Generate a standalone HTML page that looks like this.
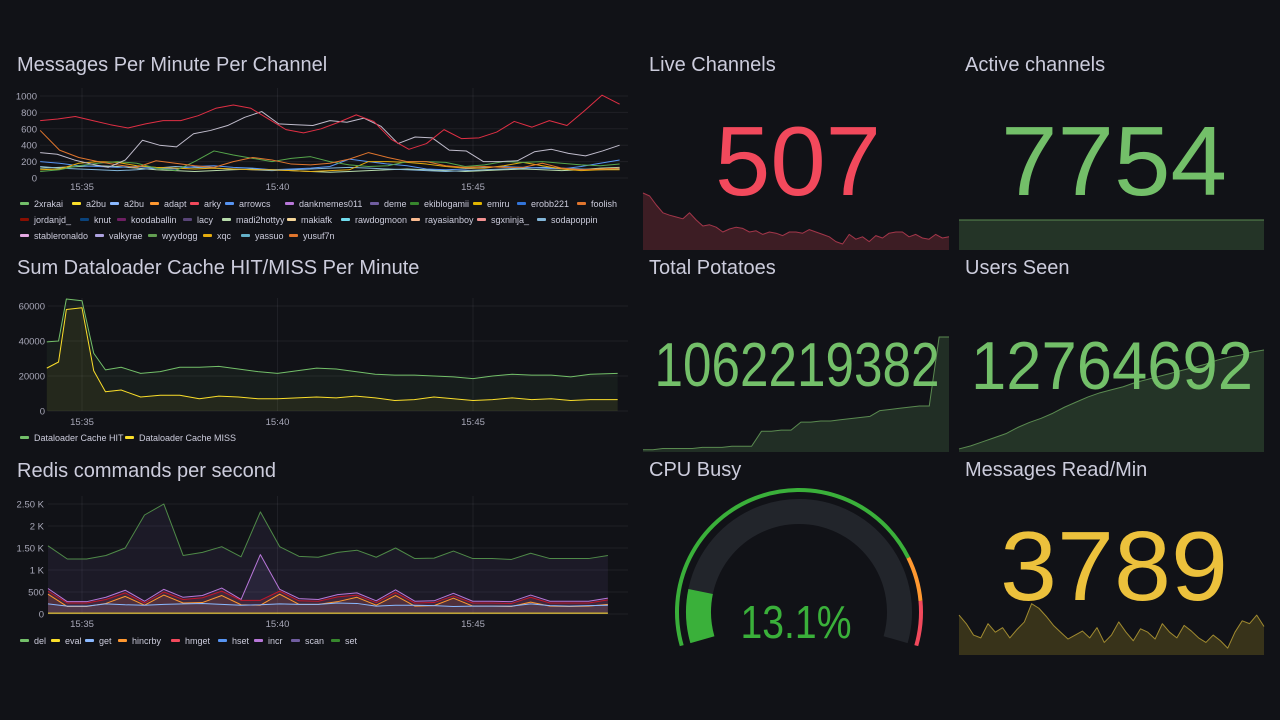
<!DOCTYPE html>
<html><head><meta charset="utf-8"><style>
html,body{margin:0;padding:0;background:#111217;}
svg{display:block;font-family:"Liberation Sans",sans-serif;}
.t{fill:#ccccdc;font-size:20px;}
.tk{fill:#a8a8b8;font-size:9.5px;}
.lg{fill:#ccccdc;font-size:9px;}
.g{stroke:rgba(204,204,220,0.08);stroke-width:1;}
</style></head><body>
<svg id="s" width="1280" height="720" viewBox="0 0 1280 720">
<text class="t" x="17" y="71">Messages Per Minute Per Channel</text>
<text class="t" x="17" y="274">Sum Dataloader Cache HIT/MISS Per Minute</text>
<text class="t" x="17" y="477">Redis commands per second</text>
<text class="t" x="649" y="71">Live Channels</text>
<text class="t" x="965" y="71">Active channels</text>
<text class="t" x="649" y="274">Total Potatoes</text>
<text class="t" x="965" y="274">Users Seen</text>
<text class="t" x="649" y="476">CPU Busy</text>
<text class="t" x="965" y="476">Messages Read/Min</text>
<g id="layer"></g>
</svg>
<script>
// ---------- Panel 1: messages per minute ----------
const p1Ticks = [0,200,400,600,800,1000];
const timeTicks = [35,40,45];
const timeLabels = ["15:35","15:40","15:45"];
const p1Names = ["2xrakai","a2bu","a2bu","adapt","arky","arrowcs","dankmemes011","deme","ekiblogamii","emiru","erobb221","foolish","jordanjd_","knut","koodaballin","lacy","madi2hottyy","makiafk","rawdogmoon","rayasianboy","sgxninja_","sodapoppin","stableronaldo","valkyrae","wyydogg","xqc","yassuo","yusuf7n"];
const p1Colors = ["#73bf69","#fade2a","#8ab8ff","#ff9830","#f2495c","#5794f2","#b877d9","#705da0","#37872d","#e0b400","#3274d9","#e0752d","#890f02","#0a437c","#6d1f62","#584477","#b7dbab","#f4d598","#70dbed","#f9ba8f","#f29191","#82b5d8","#e5a8e2","#aea2e0","#629e51","#e5ac0e","#64b0c8","#e0752d"];
const arky = [700,720,750,700,650,610,660,700,700,760,850,890,850,720,590,550,600,680,770,690,470,350,420,590,480,490,560,690,620,700,640,820,1010,900];
const valkyrae = [310,290,220,170,130,220,460,400,380,540,580,640,740,810,660,650,640,700,680,730,630,420,500,490,340,330,200,200,210,320,350,300,270,330,400];
const adapt = [580,340,250,200,160,130,210,180,150,130,200,250,220,170,160,180,230,310,250,200,200,150,130,140,130,130,180,120,100,110,120];
const rakai = [80,100,150,180,200,180,120,90,200,330,280,240,200,240,260,200,160,140,150,200,200,190,140,160,200,190,200,180,160,150,170];
const a2bu = [100,110,180,200,190,150,130,120,110,120,110,100,100,90,80,90,100,200,200,190,170,140,120,120,150,190,150,110,90,100,100];
const erobb = [200,180,150,140,130,140,120,110,140,150,130,120,100,110,120,140,230,200,170,150,110,100,110,130,140,130,120,110,140,180,220];
const xqc = [140,120,110,100,90,100,120,140,130,120,110,100,90,100,110,120,130,120,110,100,90,80,90,100,110,120,130,120,110,100,110];
const yassuo = [120,130,140,150,140,120,100,90,80,90,100,110,100,90,80,70,80,90,100,110,100,90,80,90,100,110,100,90,100,120,130];
const p1Series = [[arky,"#e02f44"],[valkyrae,"#c0bccc"],[adapt,"#e0752d"],[rakai,"#56a64b"],[a2bu,"#e5ac0e"],[erobb,"#5794f2"],[xqc,"#82b5d8"],[yassuo,"#b7dbab"]];

// ---------- Panel 2: dataloader ----------
const p2Ticks = [0,20000,40000,60000];
const p2Times = [34.1,34.4,34.6,35.0,35.3,35.6,36.0,36.5,37,37.5,38,38.5,39,39.5,40,40.5,41,41.5,42,42.5,43,43.5,44,44.5,45,45.5,46,46.5,47,47.5,48,48.7];
const hit = [39500,40000,64000,63000,33000,23500,25000,21500,22500,25000,25000,25500,24000,22500,21500,23000,24500,24000,22500,21000,20500,20500,20000,19500,18500,20000,21000,20500,20500,19500,21000,21500];
const miss = [24500,28000,58000,59000,23000,11000,12000,8000,9000,9000,7000,8500,8000,7000,7000,7500,8000,7500,8500,7500,6000,6500,8000,7000,6000,6500,7500,6500,7000,6000,6500,6500];

// ---------- Panel 3: redis ----------
const p3Ticks = [0,500,1000,1500,2000,2500];
const p3TickLabels = ["0","500","1 K","1.50 K","2 K","2.50 K"];
const setCmd = [1550,1250,1250,1330,1500,2250,2500,1330,1400,1530,1300,2320,1530,1310,1290,1400,1450,1290,1500,1260,1270,1430,1260,1260,1240,1380,1260,1260,1260,1330];
const incr = [580,280,280,380,540,290,560,380,420,590,330,1350,560,350,330,440,480,300,550,290,300,470,290,290,280,430,290,290,290,360];
const hmget = [520,250,250,330,480,250,500,330,370,520,310,310,520,300,290,390,430,260,490,250,260,410,250,250,240,380,250,250,250,320];
const hincrby = [450,170,170,240,400,200,430,250,260,420,210,200,450,220,220,280,380,200,420,180,190,360,180,180,170,270,180,170,180,220];
const getCmd = [230,180,180,230,210,200,220,230,240,220,200,210,230,220,220,250,240,180,200,200,190,170,180,180,180,230,190,180,190,200];
const evalCmd = [20,20,20,20,20,20,20,20,20,20,20,20,20,20,20,20,20,20,20,20,20,20,20,20,20,20,20,20,20,20];
const p3Names = ["del","eval","get","hincrby","hmget","hset","incr","scan","set"];
const p3Colors = ["#73bf69","#fade2a","#8ab8ff","#ff9830","#f2495c","#5794f2","#b877d9","#705da0","#37872d"];

// ---------- Stats ----------
const liveValue = "507", activeValue = "7754", potatoesValue = "1062219382", usersValue = "12764692", readValue = "3789";
const liveSpark = [95,90,75,62,58,55,52,62,50,40,42,38,30,35,38,36,30,32,26,30,28,24,30,30,28,34,30,26,22,14,10,26,18,22,14,24,20,28,30,30,22,26,20,18,26,20,22];
const activeSpark = [7754,7754,7754,7754,7754,7754];
const potatoesSpark = [2,2,3,3,3,3,4,4,4,5,5,5,18,18,19,19,26,26,27,27,28,29,30,31,36,37,38,39,40,40,100,100];
const usersSpark = [3,6,10,14,18,24,29,33,38,44,49,54,58,61,64,68,71,74,77,80,83,86,90,93,95,98,100];
const readSpark = [70,55,35,30,55,40,48,30,45,58,90,82,68,52,40,28,35,42,30,48,22,35,58,40,25,46,40,28,55,40,30,52,42,30,22,35,25,12,40,60,55,70,50];
const cpuValue = 13.1;

const NS="http://www.w3.org/2000/svg";
const layer=document.getElementById('layer');
function mk(tag,attrs,parent){const e=document.createElementNS(NS,tag);for(const k in attrs)e.setAttribute(k,attrs[k]);(parent||layer).appendChild(e);return e;}
const tx = t => 82 + (t-35)*39.1;

function axes(yTicks,labels,ys,x0,x1,labelX,axisY){
  yTicks.forEach((v,i)=>{
    const l=mk('line',{x1:x0,x2:x1,y1:ys(v),y2:ys(v),class:'g'});
    
    
    const t=mk('text',{x:labelX,y:ys(v)+3.5,'text-anchor':'end',class:'tk'});
    
    
    t.textContent=labels[i];
  });
  timeTicks.forEach((tt,i)=>{
    const l=mk('line',{x1:tx(tt),x2:tx(tt),y1:ys(yTicks[yTicks.length-1])-8,y2:ys(0),class:'g'});
    
    
    const t=mk('text',{x:tx(tt),y:axisY,'text-anchor':'middle',class:'tk'});
    
    
    t.textContent=timeLabels[i];
  });
}
function pts(vals,times,ys){return vals.map((v,i)=>[tx(times[i]),ys(v)]);}
function even(n,t0,t1){const a=[];for(let i=0;i<n;i++)a.push(t0+(t1-t0)*i/(n-1));return a;}
function line(p,color,name,w){const e=mk('polyline',{points:p.map(q=>q.join(',')).join(' '),fill:'none',stroke:color,'stroke-width':w||1,'stroke-linejoin':'round'});
  
  return e;}
function area(p,base,color,name){const d='M'+p[0][0]+','+base+' '+p.map(q=>'L'+q.join(',')).join(' ')+' L'+p[p.length-1][0]+','+base+'Z';
  const e=mk('path',{d:d,fill:color});
  
  return e;}
function legend(x,y,color,label){
  const r=mk('rect',{x:x,y:y-2,width:9,height:3,rx:1,fill:color});
  
  
  const t=mk('text',{x:x+14,y:y+3,class:'lg'});
  
  
  t.textContent=label;
}

// Panel 1
const ys1=v=>178-v*0.082;
axes(p1Ticks,p1Ticks.map(String),ys1,40,628,37,190);
p1Series.slice().reverse().forEach(([vals,c])=>{line(pts(vals,even(vals.length,33.93,48.75),ys1),c,'series-line',1);});
const legPos=[[20,204],[72,204],[110,204],[150,204],[190,204],[225,204],[285,204],[370,204],[410,204],[473,204],[517,204],[577,204],
 [20,220],[80,220],[117,220],[183,220],[222,220],[287,220],[341,220],[411,220],[477,220],[537,220],
 [20,236],[95,236],[148,236],[203,236],[241,236],[289,236]];
p1Names.forEach((n,i)=>legend(legPos[i][0],legPos[i][1],p1Colors[i],n));

// Panel 2
const ys2=v=>411-v*0.00175;
axes(p2Ticks,p2Ticks.map(String),ys2,48,628,45,425);
area(pts(hit,p2Times,ys2),411,'rgba(115,191,105,0.07)','hit-area');
area(pts(miss,p2Times,ys2),411,'rgba(250,222,42,0.06)','miss-area');
line(pts(hit,p2Times,ys2),'#73bf69','hit-line',1);
line(pts(miss,p2Times,ys2),'#fade2a','miss-line',1);
legend(20,438,'#73bf69','Dataloader Cache HIT');
legend(125,438,'#fade2a','Dataloader Cache MISS');

// Panel 3
const ys3=v=>614-v*0.044;
axes(p3Ticks,p3TickLabels,ys3,48,628,44,627);
const t3=even(setCmd.length,34.13,48.45);
area(pts(setCmd,t3,ys3),614,'rgba(112,93,160,0.12)','set-area');
area(pts(incr,t3,ys3),614,'rgba(112,93,160,0.15)','incr-area');
area(pts(hmget,t3,ys3),614,'rgba(242,73,92,0.12)','hmget-area');
area(pts(hincrby,t3,ys3),614,'rgba(255,152,48,0.08)','hincrby-area');
area(pts(getCmd,t3,ys3),614,'rgba(87,148,242,0.08)','get-area');
line(pts(setCmd,t3,ys3),'#4f8a48','set-line',1);
line(pts(incr,t3,ys3),'#b877d9','incr-line',1);
line(pts(hmget,t3,ys3),'#c4162a','hmget-line',1);
line(pts(hincrby,t3,ys3),'#ff9830','hincrby-line',1);
line(pts(getCmd,t3,ys3),'#8ab8ff','get-line',1);
line(pts(evalCmd,t3,ys3),'#fade2a','eval-line',1);
const p3x=[20,51,85,118,171,218,254,291,331];
p3Names.forEach((n,i)=>legend(p3x[i],641,p3Colors[i],n));

// Stats
function spark(vals,x0,x1,yTop,yBase,vmin,vmax,stroke,fill,name){
  const p=vals.map((v,i)=>[x0+(x1-x0)*i/(vals.length-1), yBase-(v-vmin)/(vmax-vmin)*(yBase-yTop)]);
  area(p,yBase,fill,name+'-area');line(p,stroke,name+'-line',1);
}
function big(txt,x,y,size,len,color,name){
  const t=mk('text',{x:x,y:y,'font-size':size,fill:color,'text-anchor':'middle',textLength:len,lengthAdjust:'spacingAndGlyphs'});
  
  
  t.textContent=txt;
}
spark(liveSpark,643,949,190,250,0,100,'#a3364a','rgba(242,73,92,0.2)','live-sparkline');
big(liveValue,798,195,98,166,'#f2495c','live-channels-value');
spark(activeSpark,959,1264,220,250,0,7754,'#5a8a50','rgba(115,191,105,0.2)','active-sparkline');
big(activeValue,1114,195,98,226,'#73bf69','active-channels-value');
spark(potatoesSpark,643,949,337,452,0,100,'#5a8a50','rgba(115,191,105,0.17)','potatoes-sparkline');
big(potatoesValue,797,386,62,285,'#73bf69','total-potatoes-value');
spark(usersSpark,959,1264,350,452,0,100,'#5a8a50','rgba(115,191,105,0.2)','users-sparkline');
big(usersValue,1112,389,68,282,'#73bf69','users-seen-value');
spark(readSpark,959,1264,598,655,0,100,'#a08a30','rgba(250,222,42,0.17)','read-sparkline');
big(readValue,1114,600,98,228,'#ecc13c','messages-read-value');

// Gauge
const cx=799,cy=612,A0=196,SW=212;
function arc(r,f0,f1,color,w,name){
  const a=f=>(A0-SW*f)*Math.PI/180;
  const p=f=>[cx+r*Math.cos(a(f)),cy-r*Math.sin(a(f))];
  const s=p(f0),e=p(f1),large=(SW*(f1-f0))>180?1:0;
  const el=mk('path',{d:`M${s[0]},${s[1]} A${r},${r} 0 ${large} 1 ${e[0]},${e[1]}`,fill:'none',stroke:color,'stroke-width':w});
  
  
}
arc(100.5,0,1,'#22252b',25,'gauge-track');
arc(100.5,0,cpuValue/100,'#3ab03a',25,'gauge-value-arc');
arc(122,0,0.8,'#3ab03a',4,'gauge-threshold-green');
arc(122,0.8,0.9,'#ff9830',4,'gauge-threshold-orange');
arc(122,0.9,1,'#f2495c',4,'gauge-threshold-red');
big(cpuValue.toFixed(1)+'%',796,638,46,111,'#3ab03a','cpu-busy-value');
</script>
</body></html>
